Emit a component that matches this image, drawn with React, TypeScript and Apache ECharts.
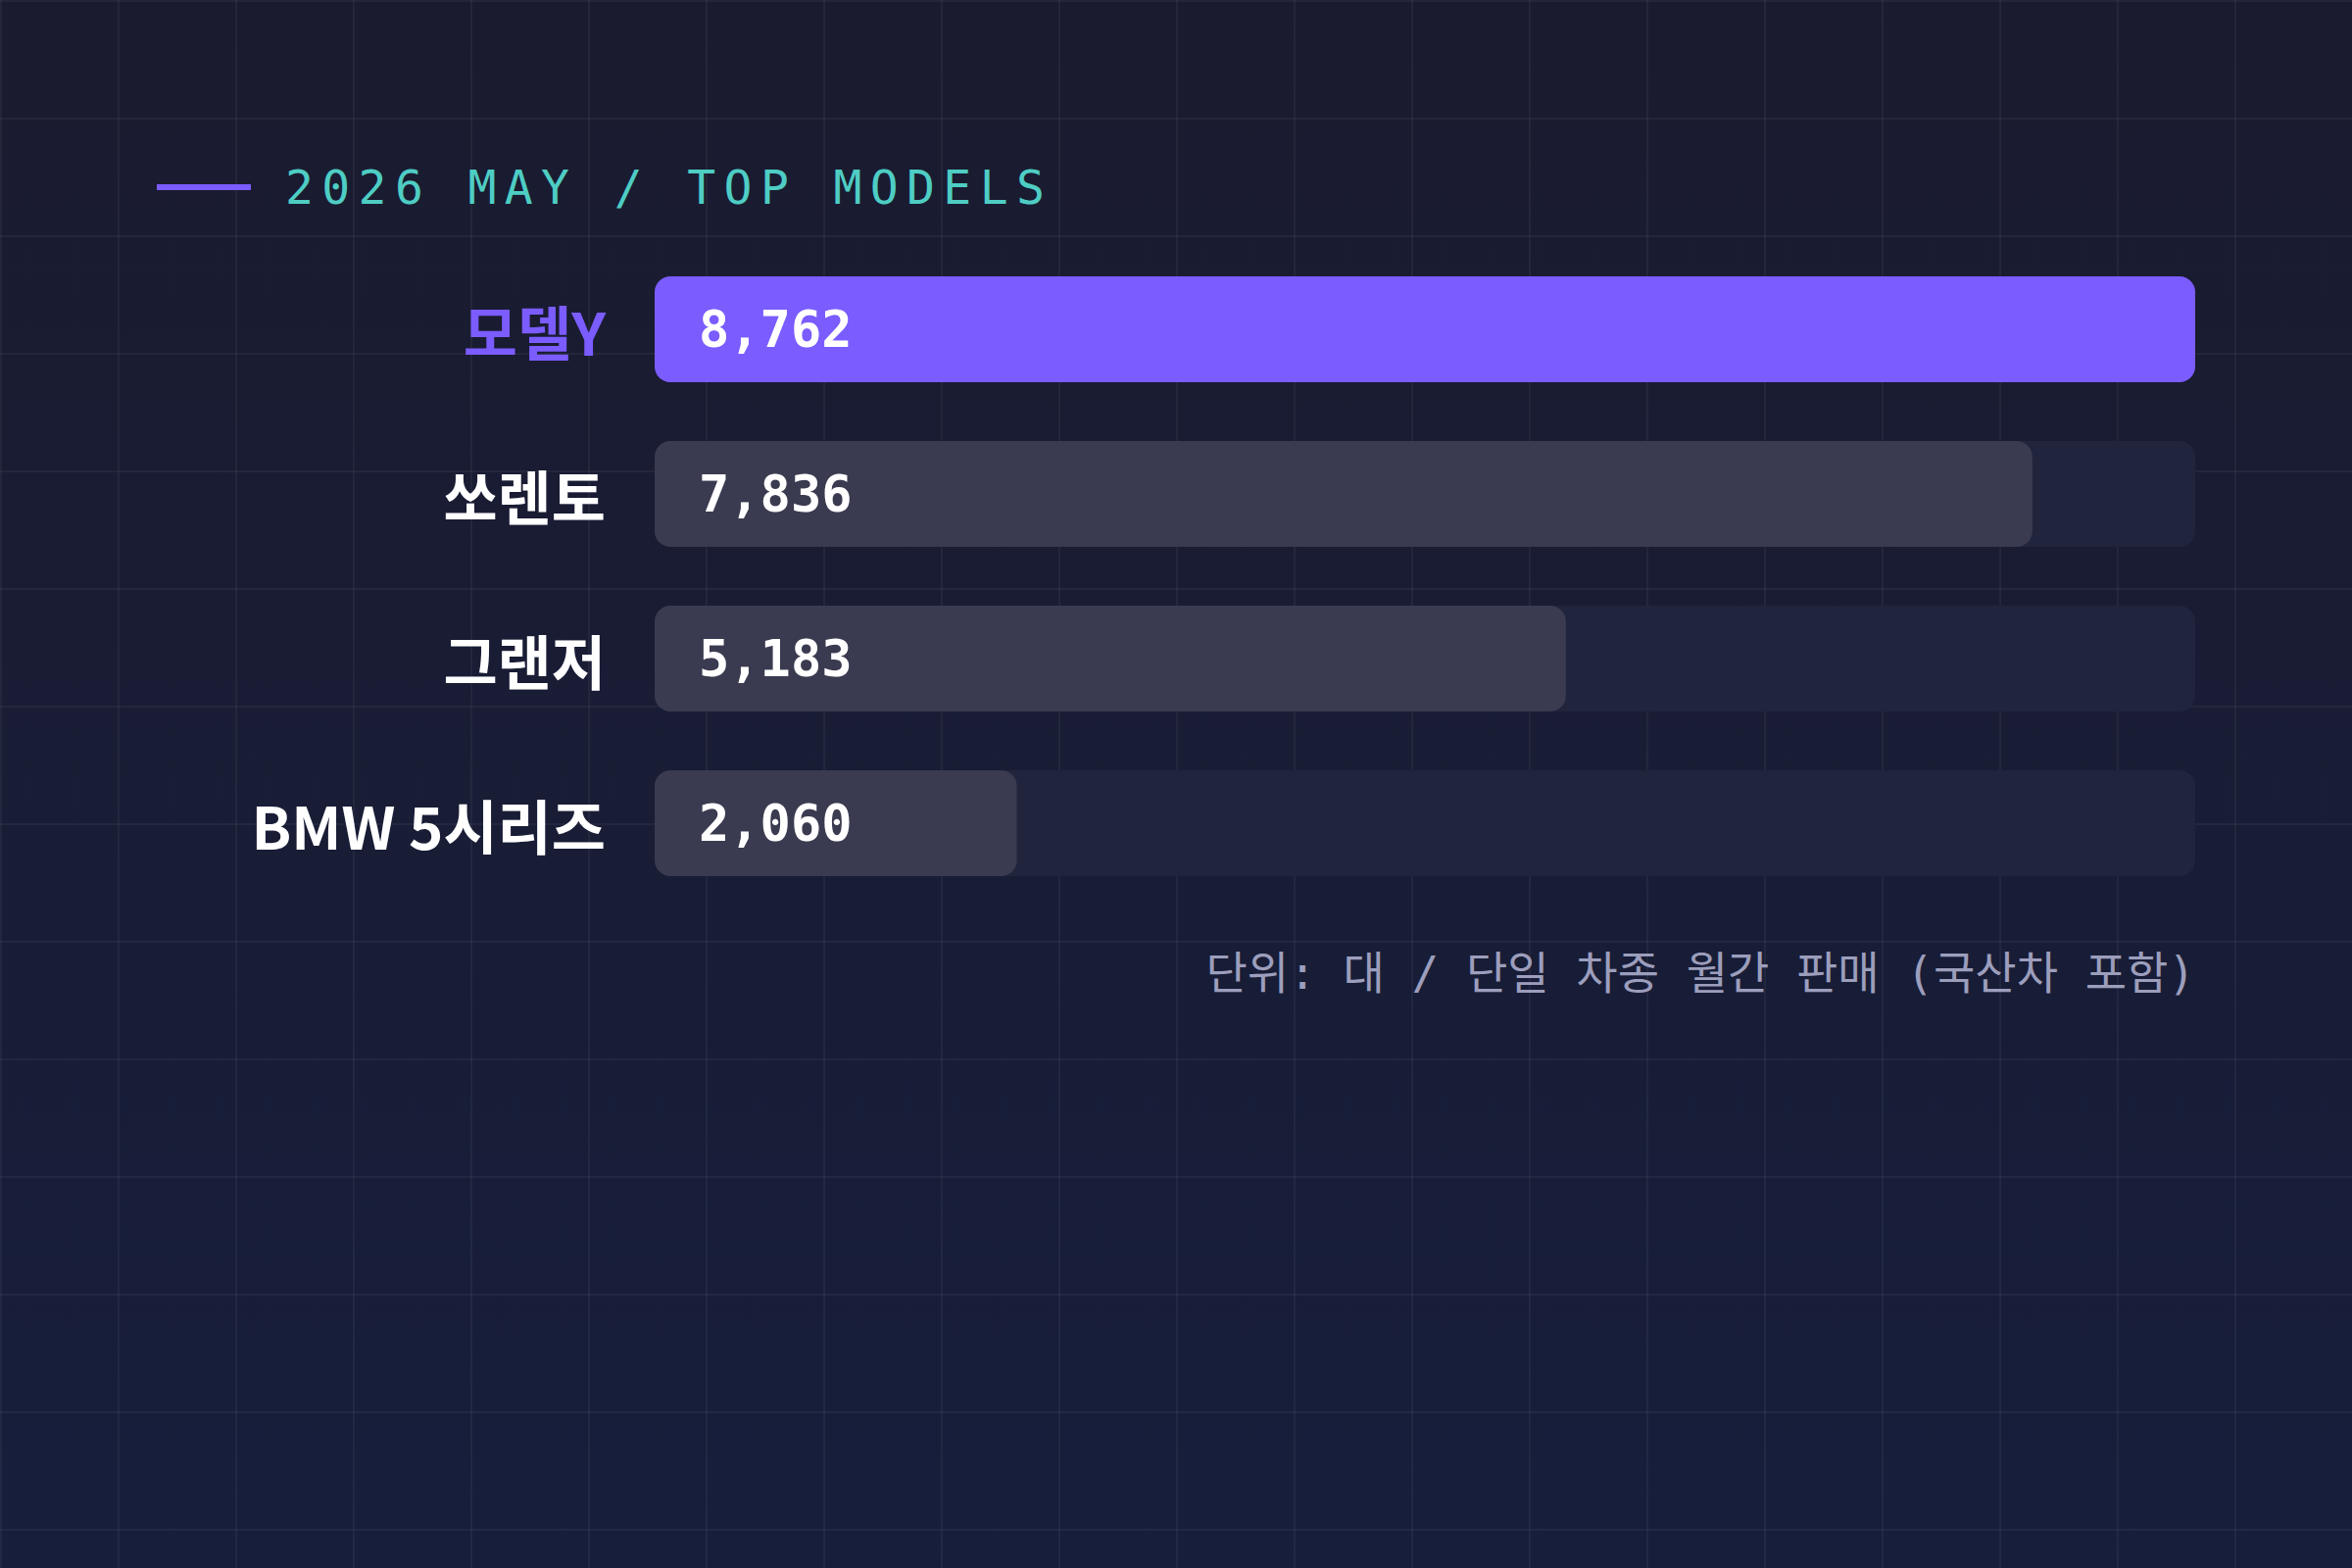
import React, { useEffect, useRef } from "react";
import * as echarts from "echarts";

const categories = ["모델Y", "쏘렌토", "그랜저", "BMW 5시리즈"];
const sales = [8762, 7836, 5183, 2060];
const highlightIndex = 0;
const titleText = "2026 MAY / TOP MODELS";
const footnoteText = "단위: 대 / 단일 차종 월간 판매 (국산차 포함)";

const PURPLE = "#7B5CFF";
const GRAY = "#3A3A50";
const TRACK = "#20243D";
const TEAL = "#4ECDC4";
const MONO = "'DejaVu Sans Mono', 'Noto Sans CJK KR', monospace";
const SANS = "'Noto Sans CJK KR', 'Noto Sans', sans-serif";

export default function App() {
  const ref = useRef<HTMLDivElement | null>(null);

  useEffect(() => {
    if (!ref.current) return;
    const chart = echarts.init(ref.current, undefined, { renderer: "svg" });
    const maxVal = Math.max(...sales);
    chart.setOption({
      animation: false,
      backgroundColor: "transparent",
      grid: { left: 668, right: 160, top: 252, height: 672, containLabel: false },
      xAxis: {
        type: "value",
        min: 0,
        max: maxVal,
        show: false,
      },
      yAxis: {
        type: "category",
        inverse: true,
        data: categories,
        axisLine: { show: false },
        axisTick: { show: false },
        splitLine: { show: false },
        axisLabel: {
          margin: 50,
          fontFamily: SANS,
          fontSize: 60,
          fontWeight: "bold",
          color: "#FFFFFF",
          formatter: (v: string, i: number) => (i === highlightIndex ? `{hl|${v}}` : v),
          rich: {
            hl: {
              color: PURPLE,
              fontFamily: SANS,
              fontSize: 60,
              fontWeight: "bold",
            },
          },
        },
      },
      series: [
        {
          type: "bar",
          barWidth: 108,
          showBackground: true,
          backgroundStyle: { color: TRACK, borderRadius: 16 },
          itemStyle: { borderRadius: 16 },
          data: sales.map((v, i) => ({
            value: v,
            itemStyle: { color: i === highlightIndex ? PURPLE : GRAY, borderRadius: 16 },
          })),
          label: {
            show: true,
            position: "insideLeft",
            distance: 45,
            fontFamily: MONO,
            fontSize: 52,
            fontWeight: "bold",
            color: "#FFFFFF",
            formatter: (p: any) => Number(p.value).toLocaleString("en-US"),
          },
        },
      ],
      graphic: [
        {
          type: "rect",
          shape: { x: 160, y: 188, width: 96, height: 6 },
          style: { fill: PURPLE },
        },
        {
          type: "text",
          x: 291,
          y: 191,
          style: {
            text: titleText,
            fontFamily: MONO,
            fontSize: 48,
            fill: TEAL,
            verticalAlign: "middle",
            align: "left",
          },
        },
        {
          type: "text",
          x: 2240,
          y: 993,
          style: {
            text: footnoteText,
            fontFamily: MONO,
            fontSize: 46,
            fill: "#9C9EBC",
            verticalAlign: "middle",
            align: "right",
          },
        },
      ],
    });
    return () => chart.dispose();
  }, []);

  return (
    <>
      <style>{`#chartbox text[style*="48px"] { letter-spacing: 8.4px; }`}</style>
      <div
        id="chartbox"
        ref={ref}
        style={{
          position: "fixed",
          left: 0,
          top: 0,
          width: 2400,
          height: 1600,
          backgroundColor: "#191c33",
          backgroundImage:
            "linear-gradient(to right, rgba(255,255,255,0.045) 2px, transparent 2px), linear-gradient(to bottom, rgba(255,255,255,0.045) 2px, transparent 2px), linear-gradient(180deg, #1a1b2f 0%, #171e3b 100%)",
          backgroundSize: "120px 120px, 120px 120px, 100% 100%",
        }}
      />
    </>
  );
}
